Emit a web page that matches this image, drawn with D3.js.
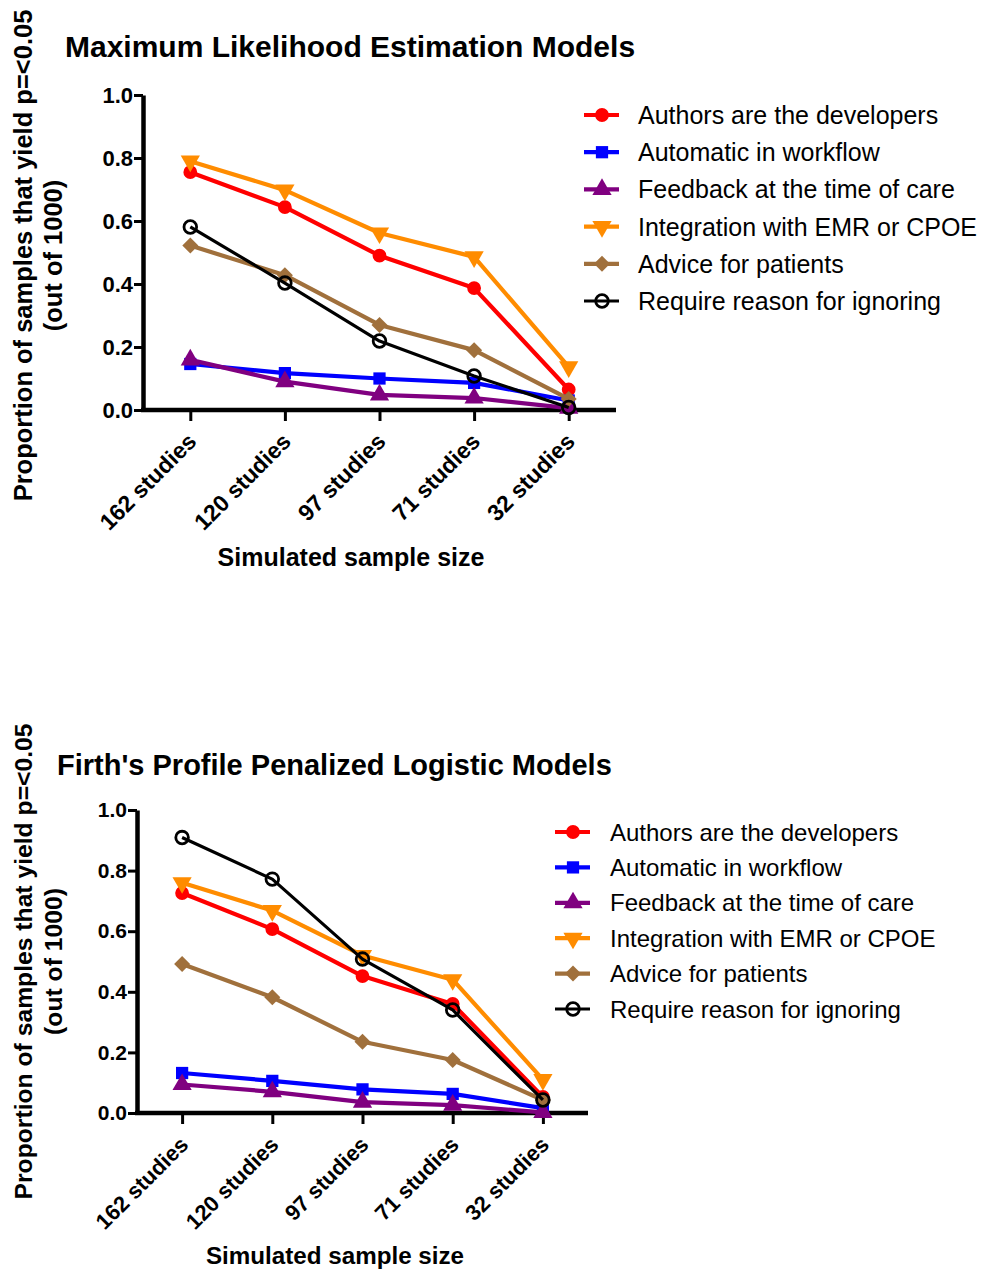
<!DOCTYPE html>
<head>
  <meta charset="utf-8">
  <script src="https://d3js.org/d3.v7.min.js"></script>
  <style>
  body,html {margin:0; background:#fff; font-family:"Liberation Sans", Arial, sans-serif;}
  svg text {font-family:"Liberation Sans", Arial, sans-serif;}
  </style>
</head>
<body>
<script>

// categories along x
const sampleSizes = ["162 studies", "120 studies", "97 studies", "71 studies", "32 studies"];
const seriesNames = ["Authors are the developers", "Automatic in workflow", "Feedback at the time of care",
                     "Integration with EMR or CPOE", "Advice for patients", "Require reason for ignoring"];
const yTicks = [0, 0.2, 0.4, 0.6, 0.8, 1.0];

// Maximum likelihood estimation (top)
const mleAuthors     = [0.755, 0.644, 0.490, 0.387, 0.065];
const mleAutomatic   = [0.146, 0.117, 0.100, 0.086, 0.030];
const mleFeedback    = [0.159, 0.090, 0.048, 0.038, 0.006];
const mleIntegration = [0.790, 0.698, 0.562, 0.486, 0.137];
const mleAdvice      = [0.522, 0.428, 0.270, 0.190, 0.035];
const mleReason      = [0.581, 0.403, 0.219, 0.108, 0.008];

// Firth's penalized (bottom)
const firthAuthors     = [0.726, 0.607, 0.452, 0.360, 0.053];
const firthAutomatic   = [0.132, 0.106, 0.078, 0.063, 0.016];
const firthFeedback    = [0.094, 0.070, 0.036, 0.026, 0.002];
const firthIntegration = [0.760, 0.668, 0.520, 0.440, 0.110];
const firthAdvice      = [0.492, 0.382, 0.235, 0.175, 0.043];
const firthReason      = [0.909, 0.772, 0.508, 0.340, 0.043];

const colors = ["#ff0000", "#0000ff", "#800080", "#ff8c00", "#a0703c", "#000000"];
const shapes = ["circle", "square", "up", "down", "diamond", "open"];

const W = 987, H = 1271;
const svg = d3.select("body").append("svg").attr("width", W).attr("height", H);

function marker(g, shape, color, x, y) {
  let s;
  if (shape == "circle") s = g.append("path").attr("d", d3.symbol(d3.symbolCircle, 150)());
  else if (shape == "square") s = g.append("path").attr("d", d3.symbol(d3.symbolSquare, 150)());
  else if (shape == "up") s = g.append("path").attr("d", d3.symbol(d3.symbolTriangle, 160)());
  else if (shape == "down") s = g.append("path").attr("d", d3.symbol(d3.symbolTriangle, 160)()).attr("data-r", 180);
  else if (shape == "diamond") s = g.append("path").attr("d", d3.symbol(d3.symbolSquare, 128)()).attr("data-r", 45);
  else s = g.append("path").attr("d", d3.symbol(d3.symbolCircle, 125)());
  const r = s.attr("data-r") || 0;
  s.attr("transform", `translate(${x},${y}) rotate(${r})`);
  if (shape == "open") s.attr("fill", "none").attr("stroke", color).attr("stroke-width", 2.8);
  else s.attr("fill", color);
}

function drawChart(c) {
  const x = d3.scalePoint().domain(sampleSizes).range(c.xr).padding(0.5);
  const y = d3.scaleLinear().domain([0, 1]).range(c.yr);
  const g = svg.append("g");

  g.append("text").attr("x", c.titleX).attr("y", c.titleY)
    .attr("font-size", c.titleSize).attr("font-weight", "bold").text(c.title);

  // y axis
  const ya = g.append("g").attr("transform", `translate(${c.xr[0]},0)`)
    .call(d3.axisLeft(y).tickValues(yTicks).tickFormat(d3.format(".1f")).tickSize(9).tickSizeOuter(0).tickPadding(1));
  ya.select(".domain").attr("stroke-width", 4.5).attr("stroke", "#000");
  ya.selectAll(".tick line").attr("stroke-width", 3).attr("stroke", "#000");
  ya.selectAll(".tick text").attr("font-size", c.tickSize).attr("font-weight", "bold").attr("fill", "#000");

  // x axis
  const xa = g.append("g").attr("transform", `translate(0,${c.yr[0]})`)
    .call(d3.axisBottom(x).tickSize(11).tickSizeOuter(0));
  xa.select(".domain").attr("stroke-width", 4.5).attr("stroke", "#000")
    .attr("d", `M${c.xr[0] - 2},0H${c.xr[1]}`);
  xa.selectAll(".tick line").attr("stroke-width", 3).attr("stroke", "#000");
  xa.selectAll(".tick text")
    .attr("font-size", c.xTickSize).attr("font-weight", "bold").attr("fill", "#000")
    .attr("text-anchor", "end").attr("dy", null).attr("y", null)
    .attr("transform", `translate(${c.lblDx},${c.lblDy}) rotate(-45)`);

  // axis titles
  const cy = (c.yr[0] + c.yr[1]) / 2 + c.yLabelShift;
  g.append("text").attr("transform", `translate(${c.yLabelX1},${cy}) rotate(-90)`)
    .attr("text-anchor", "middle").attr("font-size", c.labelSize).attr("font-weight", "bold")
    .text("Proportion of samples that yield p=<0.05");
  g.append("text").attr("transform", `translate(${c.yLabelX2},${cy}) rotate(-90)`)
    .attr("text-anchor", "middle").attr("font-size", c.labelSize).attr("font-weight", "bold")
    .text("(out of 1000)");
  g.append("text").attr("x", c.xTitleX).attr("y", c.xTitleY)
    .attr("text-anchor", "middle").attr("font-size", c.xTitleSize).attr("font-weight", "bold")
    .text("Simulated sample size");

  // series
  const line = d3.line().x((d, i) => x(sampleSizes[i])).y(d => y(d));
  c.data.forEach((vals, k) => {
    g.append("path").attr("d", line(vals)).attr("fill", "none")
      .attr("stroke", colors[k]).attr("stroke-width", k == 5 ? 3.2 : 4.2).attr("stroke-linejoin", "round");
    vals.forEach((v, i) => marker(g, shapes[k], colors[k], x(sampleSizes[i]), y(v)));
  });

  // legend
  seriesNames.forEach((name, k) => {
    const ly = c.legY + k * c.legStep;
    g.append("line").attr("x1", c.legX - 18).attr("x2", c.legX + 17).attr("y1", ly).attr("y2", ly)
      .attr("stroke", colors[k]).attr("stroke-width", k == 5 ? 3.2 : 4.2);
    marker(g, shapes[k], colors[k], c.legX, ly);
    g.append("text").attr("x", c.legTextX).attr("y", ly).attr("dy", "0.36em")
      .attr("font-size", c.legSize).text(name);
  });
}

drawChart({
  title: "Maximum Likelihood Estimation Models", titleX: 65, titleY: 57, titleSize: 30,
  xr: [143, 616], yr: [410, 95], tickSize: 22, xTickSize: 23, lblDx: 7, lblDy: 33,
  labelSize: 25.5, yLabelX1: 32, yLabelX2: 62, yLabelShift: 3, xTitleX: 351, xTitleY: 566, xTitleSize: 25,
  legX: 602, legTextX: 638, legY: 115, legStep: 37.2, legSize: 25,
  data: [mleAuthors, mleAutomatic, mleFeedback, mleIntegration, mleAdvice, mleReason]
});

drawChart({
  title: "Firth's Profile Penalized Logistic Models", titleX: 57, titleY: 775, titleSize: 29,
  xr: [137, 588], yr: [1113, 810], tickSize: 21, xTickSize: 22, lblDx: 7, lblDy: 33,
  labelSize: 24.7, yLabelX1: 32, yLabelX2: 62, yLabelShift: 0, xTitleX: 335, xTitleY: 1264, xTitleSize: 24.2,
  legX: 573, legTextX: 610, legY: 832, legStep: 35.4, legSize: 24,
  data: [firthAuthors, firthAutomatic, firthFeedback, firthIntegration, firthAdvice, firthReason]
});

</script>
</body>
